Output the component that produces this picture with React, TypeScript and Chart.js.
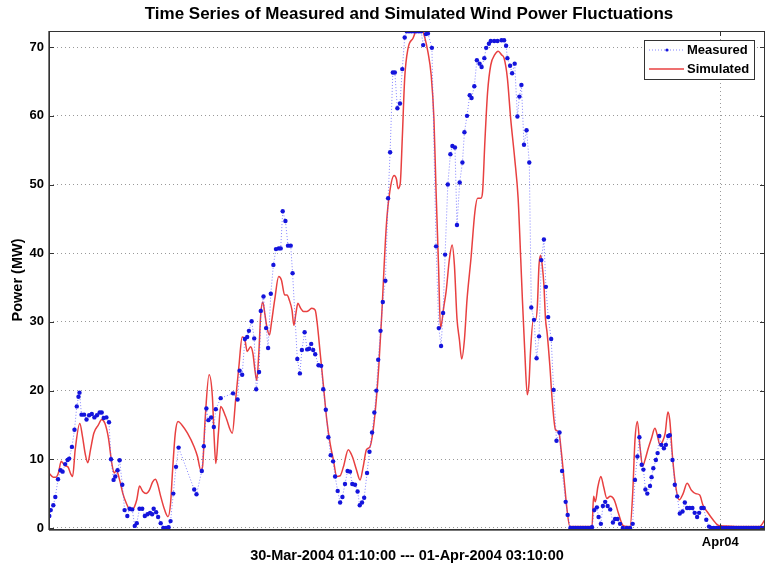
import React, { useEffect, useRef } from "react";
import { Chart, registerables } from "chart.js";

Chart.register(...registerables);

// Hours since 30-Mar-2004 01:10:00
const measuredHours = [
  0.02, 0.12, 0.30, 0.44, 0.63, 0.81, 0.95, 1.13, 1.30, 1.41, 1.60, 1.78, 1.94, 2.06, 2.13, 2.27, 2.45, 2.62, 2.80, 2.99,
  3.17, 3.35, 3.54, 3.68, 3.82, 4.01, 4.19, 4.33, 4.51, 4.63, 4.79, 4.93, 5.12, 5.28, 5.47, 5.63, 5.81, 5.99, 6.13, 6.32,
  6.51, 6.69, 6.88, 7.06, 7.20, 7.31, 7.48, 7.62, 7.80, 7.99, 8.17, 8.35, 8.49, 8.68, 8.87, 9.05, 10.14, 10.30, 10.67, 10.81,
  10.99, 11.13, 11.32, 11.51, 11.65, 11.99, 12.85, 13.17, 13.31, 13.49, 13.68, 13.84, 13.96, 14.15, 14.33, 14.47, 14.67, 14.79, 14.98, 15.16,
  15.30, 15.49, 15.67, 15.85, 16.04, 16.18, 16.32, 16.51, 16.69, 16.88, 17.01, 17.34, 17.52, 17.66, 17.85, 18.03, 18.17, 18.31, 18.45, 18.59,
  18.82, 19.01, 19.15, 19.33, 19.51, 19.67, 19.84, 19.98, 20.16, 20.33, 20.49, 20.67, 20.85, 21.02, 21.18, 21.37, 21.55, 21.70, 21.86, 22.01,
  22.21, 22.38, 22.56, 22.72, 22.86, 22.99, 23.15, 23.31, 23.49, 23.68, 23.82, 24.01, 24.15, 24.33, 24.51, 24.67, 24.84, 24.98, 25.14, 25.31,
  25.49, 25.66, 25.83, 25.99, 26.13, 26.32, 26.46, 26.74, 27.03, 27.22, 27.38, 27.52, 27.66, 27.85, 28.03, 28.17, 28.35, 28.49, 28.68, 28.87,
  29.01, 29.19, 29.38, 29.51, 29.70, 29.88, 30.07, 30.21, 30.40, 30.53, 30.72, 30.85, 31.09, 31.32, 31.60, 31.78, 31.92, 32.01, 32.20, 32.34,
  32.52, 32.71, 32.85, 32.99, 33.17, 33.35, 33.54, 33.68, 33.87, 34.05, 34.22, 34.38, 34.56, 34.70, 34.86, 35.07, 35.24, 35.44, 35.65, 35.83,
  36.08, 36.22, 36.41, 36.60, 36.77, 36.94, 37.12, 37.29, 37.47, 37.64, 37.81, 37.92, 38.08, 38.26, 38.38, 38.54, 38.68, 38.84, 39.01, 39.19,
  39.38, 39.53, 39.70, 39.88, 40.07, 40.35, 40.58, 40.76, 40.92, 41.09, 41.23, 41.39, 41.51, 41.65, 41.78, 41.97, 42.08, 42.20, 42.38, 42.50,
  42.62, 42.76, 42.94, 43.08, 43.24, 43.35, 43.54, 43.70, 43.87, 44.05, 44.24, 44.40, 44.56, 44.74, 44.93, 45.09, 45.26, 45.40, 45.56, 45.72,
  45.90, 46.09, 46.25, 46.42, 46.60, 46.77, 46.94, 47.12, 47.29, 47.47, 47.64, 47.81, 47.99, 48.16, 48.33, 48.51, 48.68, 48.85, 49.03, 49.20,
  49.37, 49.55, 49.72, 49.90,
];

const measuredMW = [
  1.75, 2.6, 3.3, 4.5, 7.1, 8.4, 8.2, 9.3, 9.9, 10.1, 11.8, 14.3, 17.7, 19.1, 19.7, 16.5, 16.5, 15.8, 16.4, 16.6,
  16.1, 16.4, 16.8, 16.8, 16.0, 16.1, 15.4, 10.0, 7.0, 7.5, 8.4, 9.85, 6.3, 2.6, 1.75, 2.8, 2.7, 0.3, 0.7, 2.8,
  2.8, 1.75, 2.0, 2.2, 2.0, 2.8, 2.3, 1.6, 0.7, 0.0, 0.0, 0.1, 1.0, 5.0, 8.9, 11.7, 5.6, 4.9, 8.3, 11.9,
  17.4, 15.7, 16.1, 14.7, 17.3, 18.9, 19.6, 18.7, 22.9, 22.3, 27.5, 27.8, 28.7, 30.1, 27.6, 20.2, 22.7, 31.6, 33.7, 29.1,
  26.2, 34.1, 38.3, 40.6, 40.7, 40.7, 46.1, 44.7, 41.1, 41.1, 37.1, 24.6, 22.5, 25.9, 28.5, 26.0, 26.1, 26.8, 25.9, 25.3,
  23.7, 23.6, 20.2, 17.2, 13.2, 10.6, 9.7, 7.5, 5.4, 3.7, 4.5, 6.4, 8.3, 8.2, 6.4, 6.3, 5.3, 3.3, 3.7, 4.4,
  8.0, 11.1, 13.9, 16.8, 20.0, 24.5, 28.7, 32.9, 36.0, 48.0, 54.7, 66.3, 66.3, 61.1, 61.8, 66.8, 71.4, 72.3, 72.3, 72.3,
  72.3, 72.3, 72.3, 72.3, 70.3, 71.9, 72.0, 69.9, 41.0, 29.1, 26.5, 31.3, 39.8, 50.0, 54.4, 55.6, 55.4, 44.1, 50.3, 53.2,
  57.6, 60.0, 63.0, 62.6, 64.3, 68.1, 67.6, 67.1, 68.4, 69.9, 70.5, 70.9, 70.9, 70.9, 71.0, 71.0, 70.2, 68.4, 67.3, 66.2,
  67.6, 59.9, 62.8, 64.5, 55.8, 57.9, 53.2, 32.1, 30.3, 24.7, 27.9, 39.0, 42.0, 35.1, 30.7, 27.5, 20.1, 12.7, 13.9, 8.3,
  3.8, 1.9, 0.0, 0.0, 0.0, 0.0, 0.0, 0.0, 0.0, 0.0, 0.0, 0.1, 2.6, 3.0, 1.6, 0.6, 3.2, 3.8, 3.2, 2.7,
  0.8, 1.3, 1.3, 0.6, 0.0, 0.0, 0.0, 0.6, 7.0, 10.4, 13.2, 9.2, 8.5, 5.6, 5.0, 6.1, 7.4, 8.7, 9.9, 10.9,
  13.4, 12.1, 11.6, 12.1, 13.4, 13.5, 9.9, 6.3, 4.6, 2.1, 2.4, 3.7, 2.9, 2.9, 2.9, 2.2, 1.6, 2.2, 2.9, 2.9,
  1.2, 0.2, 0.0, 0.0, 0.0, 0.0, 0.0, 0.0, 0.0, 0.0, 0.0, 0.0, 0.0, 0.0, 0.0, 0.0, 0.0, 0.0, 0.0, 0.0,
  0.0, 0.0, 0.0, 0.0,
];

const simulatedHours = [
  0.00, 0.30, 0.49, 0.67, 0.85, 0.99, 1.18, 1.32, 1.51, 1.65, 1.83, 2.15, 2.34, 2.52, 2.71, 2.90, 3.13, 3.45, 3.68, 3.91,
  4.15, 4.38, 4.56, 4.70, 4.93, 5.16, 5.40, 5.67, 5.85, 6.13, 6.32, 6.55, 6.78, 7.01, 7.24, 7.43, 7.57, 7.80, 8.08, 8.31,
  8.49, 8.63, 8.82, 9.01, 9.28, 9.67, 10.14, 10.37, 10.60, 10.72, 10.90, 11.18, 11.41, 11.53, 11.65, 11.83, 11.99, 12.34, 12.80, 13.03,
  13.26, 13.49, 13.68, 13.84, 14.08, 14.24, 14.38, 14.51, 14.65, 14.79, 14.93, 15.07, 15.23, 15.40, 15.53, 15.76, 16.04, 16.23, 16.46, 16.62,
  16.78, 16.97, 17.10, 17.24, 17.38, 17.57, 17.78, 18.01, 18.17, 18.35, 18.59, 18.73, 18.94, 19.17, 19.40, 19.63, 19.86, 20.09, 20.33, 20.56,
  20.90, 21.18, 21.48, 21.72, 21.94, 22.17, 22.41, 22.64, 22.87, 23.03, 23.22, 23.56, 23.80, 24.10, 24.26, 24.38, 24.53, 24.67, 24.84, 25.07,
  25.42, 25.76, 25.99, 26.23, 26.46, 26.69, 26.88, 27.03, 27.20, 27.34, 27.57, 27.73, 27.97, 28.15, 28.31, 28.49, 28.66, 28.82, 29.01, 29.19,
  29.47, 29.74, 29.93, 30.16, 30.28, 30.44, 30.63, 30.85, 31.13, 31.37, 31.60, 31.78, 32.01, 32.24, 32.52, 32.76, 32.94, 33.06, 33.22, 33.40,
  33.52, 33.63, 33.82, 33.98, 34.10, 34.22, 34.33, 34.44, 34.56, 34.67, 34.79, 34.98, 35.14, 35.37, 35.60, 35.76, 35.95, 36.18, 36.37, 37.92,
  38.03, 38.15, 38.33, 38.54, 38.73, 38.96, 39.19, 39.47, 39.77, 40.07, 40.35, 40.58, 40.76, 40.92, 41.09, 41.27, 41.46, 41.62, 41.85, 42.08,
  42.31, 42.48, 42.66, 42.85, 43.03, 43.22, 43.35, 43.54, 43.77, 44.01, 44.28, 44.56, 44.86, 45.16, 45.44, 45.67, 45.95, 46.37, 46.72, 47.06,
  47.99, 49.60, 50.00,
];

const simulatedMW = [
  8.0, 7.4, 7.4, 8.1, 9.7, 9.4, 9.0, 8.9, 7.9, 7.5, 11.4, 15.2, 13.3, 10.9, 9.5, 11.4, 13.8, 15.0, 15.8, 15.2,
  13.1, 9.5, 8.0, 8.4, 7.0, 5.0, 3.6, 2.6, 2.7, 4.1, 6.1, 5.3, 5.0, 5.5, 6.7, 7.1, 6.5, 4.6, 2.6, 1.65,
  3.6, 8.4, 13.8, 15.5, 15.0, 13.8, 11.8, 10.4, 8.4, 8.9, 15.7, 22.3, 19.1, 13.3, 9.4, 13.8, 17.7, 16.2, 13.8, 18.6,
  23.5, 27.8, 27.4, 25.7, 26.4, 25.4, 23.0, 21.5, 25.4, 31.2, 32.9, 31.2, 29.1, 28.1, 29.8, 33.2, 36.6, 36.1, 33.9, 33.9,
  33.2, 31.7, 29.5, 31.2, 32.7, 32.0, 31.5, 31.5, 31.7, 32.0, 31.7, 29.8, 25.4, 20.6, 15.7, 12.3, 9.9, 7.5, 7.6, 8.9,
  11.4, 10.4, 8.4, 7.0, 8.9, 11.4, 11.8, 14.3, 19.0, 23.5, 30.4, 44.1, 49.0, 51.3, 50.8, 49.4, 50.2, 56.7, 65.5, 69.8,
  71.3, 72.8, 72.8, 71.5, 69.3, 65.9, 59.6, 49.0, 38.3, 29.1, 32.2, 34.4, 39.3, 41.2, 38.3, 30.5, 27.4, 24.6, 27.4, 33.2,
  39.3, 46.0, 48.0, 48.0, 49.0, 56.3, 63.5, 67.4, 68.9, 69.4, 68.9, 68.4, 65.5, 59.6, 53.8, 48.0, 39.3, 33.2, 25.9, 19.4,
  21.1, 25.9, 30.3, 30.3, 32.2, 38.3, 39.7, 38.3, 35.4, 30.5, 28.3, 23.5, 18.6, 14.3, 14.0, 11.4, 7.5, 2.6, 0.2, 0.2,
  4.6, 3.8, 6.0, 7.5, 6.0, 4.3, 4.6, 4.1, 2.1, 0.4, 0.2, 0.2, 5.0, 12.8, 15.5, 11.8, 9.0, 9.9, 11.6, 13.1,
  14.5, 13.5, 12.1, 12.6, 13.8, 16.9, 15.7, 10.4, 6.0, 4.1, 5.0, 6.5, 5.5, 5.0, 4.8, 3.3, 2.4, 1.2, 0.4, 0.3,
  0.2, 0.2, 1.2,
];

const yTicks = [0, 10, 20, 30, 40, 50, 60, 70];
const xTickHours = [46.875];
const xTickLabels = ["Apr04"];

const titleText = "Time Series of Measured and Simulated Wind Power Fluctuations";
const xTitleText = "30-Mar-2004 01:10:00 --- 01-Apr-2004 03:10:00";
const yTitleText = "Power (MW)";
const seriesNames = ["Measured", "Simulated"];

const FONT = '"Liberation Sans", Arial, Helvetica, sans-serif';
const BLUE = "rgb(20,20,220)";
const BLUE_LINE = "rgba(80,80,255,0.7)";
const RED = "rgb(232,64,64)";

const decorPlugin = {
  id: "decor",
  afterDraw(chart: any) {
    const { ctx, chartArea, scales } = chart;
    const { left, right, top, bottom } = chartArea;
    ctx.save();
    // frame
    ctx.strokeStyle = "#333";
    ctx.lineWidth = 1;
    ctx.setLineDash([]);
    ctx.strokeRect(left + 0.5, top + 0.5, right - left - 1, bottom - top);
    ctx.strokeStyle = "#777";
    ctx.beginPath();
    ctx.moveTo(left - 0.5, top);
    ctx.lineTo(left - 0.5, bottom + 1);
    ctx.moveTo(left, bottom + 1.5);
    ctx.lineTo(right, bottom + 1.5);
    ctx.stroke();
    // inward ticks
    ctx.strokeStyle = "#333";
    ctx.beginPath();
    yTicks.forEach((v) => {
      const py = Math.round(scales.y.getPixelForValue(v)) + 0.5;
      ctx.moveTo(left, py);
      ctx.lineTo(left + 5, py);
      ctx.moveTo(right, py);
      ctx.lineTo(right - 5, py);
    });
    xTickHours.forEach((v) => {
      const px = Math.round(scales.x.getPixelForValue(v)) + 0.5;
      ctx.moveTo(px, bottom);
      ctx.lineTo(px, bottom - 5);
      ctx.moveTo(px, top);
      ctx.lineTo(px, top + 5);
    });
    ctx.stroke();

    // title
    ctx.fillStyle = "#000";
    ctx.font = `bold 17px ${FONT}`;
    ctx.textAlign = "center";
    ctx.textBaseline = "middle";
    ctx.fillText(titleText, (left + right) / 2 + 2, 14);

    // legend
    const bw = 110;
    const bh = 39;
    const bx = right - 11 - bw;
    const by = top + 9;
    ctx.fillStyle = "#fff";
    ctx.fillRect(bx, by, bw, bh);
    ctx.strokeStyle = "#333";
    ctx.strokeRect(bx + 0.5, by + 0.5, bw, bh);
    const rows = [by + 10, by + 29];
    // measured sample
    ctx.strokeStyle = BLUE_LINE;
    ctx.setLineDash([1, 2]);
    ctx.beginPath();
    ctx.moveTo(bx + 5, rows[0]);
    ctx.lineTo(bx + 40, rows[0]);
    ctx.stroke();
    ctx.setLineDash([]);
    ctx.fillStyle = BLUE;
    ctx.beginPath();
    ctx.arc(bx + 23, rows[0], 1.6, 0, Math.PI * 2);
    ctx.fill();
    // simulated sample
    ctx.strokeStyle = RED;
    ctx.lineWidth = 1.5;
    ctx.beginPath();
    ctx.moveTo(bx + 5, rows[1]);
    ctx.lineTo(bx + 40, rows[1]);
    ctx.stroke();
    ctx.fillStyle = "#000";
    ctx.font = `bold 13px ${FONT}`;
    ctx.textAlign = "left";
    ctx.fillText(seriesNames[0], bx + 43, rows[0]);
    ctx.fillText(seriesNames[1], bx + 43, rows[1]);
    ctx.restore();
  },
};

export default function App() {
  const ref = useRef<HTMLCanvasElement | null>(null);

  useEffect(() => {
    document.body.style.margin = "0";
    const canvas = ref.current;
    if (!canvas) return;
    const measured = measuredHours.map((x, i) => ({ x, y: measuredMW[i] }));
    const simulated = simulatedHours.map((x, i) => ({ x, y: simulatedMW[i] }));
    const chart = new Chart(canvas, {
      type: "line",
      data: {
        datasets: [
          {
            label: seriesNames[0],
            data: measured,
            borderColor: BLUE_LINE,
            borderWidth: 1,
            borderDash: [1, 2],
            pointRadius: 2.2,
            pointBorderWidth: 0,
            pointBackgroundColor: BLUE,
            tension: 0,
          },
          {
            label: seriesNames[1],
            data: simulated,
            borderColor: RED,
            borderWidth: 1.5,
            pointRadius: 0,
            cubicInterpolationMode: "monotone",
          },
        ],
      },
      options: {
        responsive: false,
        animation: false,
        devicePixelRatio: 1,
        layout: { padding: { top: 31, right: 1, left: 0, bottom: 0 } },
        plugins: {
          legend: { display: false },
          title: { display: false },
          tooltip: { enabled: false },
        },
        scales: {
          x: {
            type: "linear",
            min: 0,
            max: 50,
            afterFit: (s: any) => {
              s.height = 40;
            },
            afterBuildTicks: (s: any) => {
              s.ticks = xTickHours.map((value) => ({ value }));
            },
            ticks: {
              autoSkip: false,
              maxRotation: 0,
              padding: 6,
              color: "#000",
              font: { family: FONT, size: 13, weight: "bold" },
              callback: (v: any) => {
                const i = xTickHours.indexOf(Number(v));
                return i >= 0 ? xTickLabels[i] : "";
              },
            },
            grid: { color: "#999", drawTicks: false, lineWidth: 1 },
            border: { display: false, dash: [1, 3] },
            title: {
              display: true,
              text: xTitleText,
              color: "#000",
              font: { family: FONT, size: 14.5, weight: "bold" },
              padding: { top: 0, bottom: 4.5 },
            },
          },
          y: {
            type: "linear",
            min: -0.15,
            max: 72.35,
            afterFit: (s: any) => {
              s.width = 49;
            },
            afterBuildTicks: (s: any) => {
              s.ticks = yTicks.map((value) => ({ value }));
            },
            ticks: {
              padding: 5,
              color: "#000",
              font: { family: FONT, size: 13, weight: "bold" },
            },
            grid: { color: "#999", drawTicks: false, lineWidth: 1 },
            border: { display: false, dash: [1, 3] },
            title: {
              display: true,
              text: yTitleText,
              color: "#000",
              font: { family: FONT, size: 14.5, weight: "bold" },
              padding: { top: 9, bottom: 0 },
            },
          },
        },
      },
      plugins: [decorPlugin],
    });
    return () => chart.destroy();
  }, []);

  return (
    <div style={{ width: 769, height: 569, background: "#fff" }}>
      <canvas ref={ref} width={769} height={569} style={{ display: "block", width: 769, height: 569 }} />
    </div>
  );
}
